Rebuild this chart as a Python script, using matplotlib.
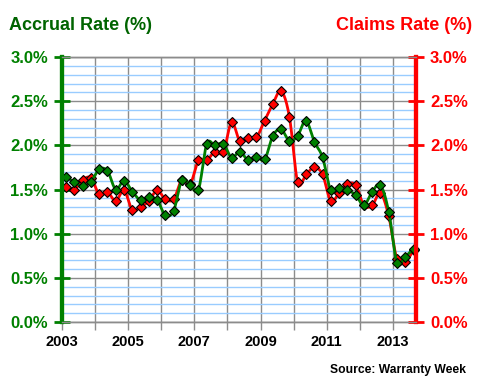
import numpy as np
import matplotlib
matplotlib.use("Agg")
import matplotlib.pyplot as plt
from matplotlib.ticker import MultipleLocator, FuncFormatter

# Quarterly data, Q1 2003 .. Q3 2013
years = list(range(2003, 2014))
accrual = [1.645, 1.58, 1.54, 1.59,
           1.73, 1.71, 1.50, 1.60,
           1.475, 1.38, 1.41, 1.38,
           1.21, 1.26, 1.61, 1.55,
           1.50, 2.015, 2.00, 2.02,
           1.86, 1.93, 1.83, 1.87,
           1.84, 2.11, 2.18, 2.05,
           2.11, 2.28, 2.04, 1.865,
           1.49, 1.52, 1.49, 1.44,
           1.32, 1.475, 1.55, 1.25,
           0.67, 0.74, 0.83]
claims = [1.53, 1.50, 1.61, 1.63,
          1.445, 1.47, 1.37, 1.49,
          1.27, 1.30, 1.37, 1.49,
          1.39, 1.39, 1.61, 1.56,
          1.83, 1.83, 1.93, 1.92,
          2.26, 2.05, 2.08, 2.09,
          2.28, 2.47, 2.615, 2.32,
          1.58, 1.67, 1.75, 1.67,
          1.37, 1.46, 1.56, 1.55,
          1.32, 1.32, 1.46, 1.20,
          0.71, 0.68, 0.81]
year_labels = ["2003", "2005", "2007", "2009", "2011", "2013"]

n = len(accrual)
xq = np.array([2003 + (i + 0.5) / 4.0 for i in range(n)])

def catmull(x, y, steps=12):
    x = np.asarray(x, float); y = np.asarray(y, float)
    px = np.concatenate([[2 * x[0] - x[1]], x, [2 * x[-1] - x[-2]]])
    py = np.concatenate([[2 * y[0] - y[1]], y, [2 * y[-1] - y[-2]]])
    ox, oy = [], []
    t = np.linspace(0, 1, steps, endpoint=False)
    for i in range(1, len(px) - 2):
        for arr, out in ((px, ox), (py, oy)):
            p0, p1, p2, p3 = arr[i - 1], arr[i], arr[i + 1], arr[i + 2]
            out.extend(0.5 * ((2 * p1) + (-p0 + p2) * t +
                              (2 * p0 - 5 * p1 + 4 * p2 - p3) * t ** 2 +
                              (-p0 + 3 * p1 - 3 * p2 + p3) * t ** 3))
    ox.append(x[-1]); oy.append(y[-1])
    return np.array(ox), np.array(oy)

plt.rcParams['font.family'] = ['Liberation Sans', 'DejaVu Sans']
GREEN = '#008000'
RED = '#ff0000'

fig = plt.figure(figsize=(4.8, 3.8), dpi=100)
ax = fig.add_axes([62 / 480, 58 / 380, 354 / 480, 265 / 380])
ax.set_xlim(2003, 2013.7)
ax.set_ylim(0, 3.0)

# grid
ax.yaxis.set_minor_locator(MultipleLocator(0.1))
ax.yaxis.set_major_locator(MultipleLocator(0.5))
ax.grid(which='minor', axis='y', color='#99ccff', lw=1, zorder=0)
ax.grid(which='major', axis='y', color='#8c8c8c', lw=1, zorder=0.5)
ax.set_xticks(years)
ax.set_xticklabels([str(y) if str(y) in year_labels else '' for y in years],
                   fontsize=10.5, fontweight='bold')
ax.grid(which='major', axis='x', color='#8c8c8c', lw=1, zorder=0.5)
ax.tick_params(axis='x', direction='out', length=6, width=1, color='#8c8c8c', pad=3)

# series
cx, cy = catmull(xq, claims)
ax.plot(cx, cy, color=RED, lw=2, zorder=3, clip_on=False)
ax.plot(xq, claims, ls='none', marker='D', ms=5, mfc=RED, mec='black', mew=0.8, zorder=4, clip_on=False)
gx, gy = catmull(xq, accrual)
ax.plot(gx, gy, color=GREEN, lw=2, zorder=5, clip_on=False)
ax.plot(xq, accrual, ls='none', marker='D', ms=5, mfc=GREEN, mec='black', mew=0.8, zorder=6, clip_on=False)

fmt = FuncFormatter(lambda v, p: f"{v:.1f}%")
ax.yaxis.set_major_formatter(fmt)
ax.tick_params(axis='y', which='major', direction='inout', length=12, width=2,
               color=GREEN, labelcolor=GREEN, labelsize=12, pad=4)
ax.tick_params(axis='y', which='minor', length=0)
for lab in ax.get_yticklabels():
    lab.set_fontweight('bold')

ax2 = ax.twinx()
ax2.set_ylim(0, 3.0)
ax2.yaxis.set_major_locator(MultipleLocator(0.5))
ax2.yaxis.set_major_formatter(fmt)
ax2.tick_params(axis='y', direction='inout', length=12, width=2,
                color=RED, labelcolor=RED, labelsize=12, pad=4)
for lab in ax2.get_yticklabels():
    lab.set_fontweight('bold')

for a in (ax, ax2):
    a.spines['top'].set_color('#8c8c8c'); a.spines['top'].set_linewidth(1)
    a.spines['bottom'].set_color('#8c8c8c'); a.spines['bottom'].set_linewidth(1)
    a.spines['left'].set_color(GREEN); a.spines['left'].set_linewidth(3)
    a.spines['right'].set_color(RED); a.spines['right'].set_linewidth(3)

fig.text(9 / 480, 1 - 26 / 380, "Accrual Rate (%)", color='#006400', fontsize=13,
         fontweight='bold', ha='left', va='center')
fig.text(472 / 480, 1 - 26 / 380, "Claims Rate (%)", color=RED, fontsize=13,
         fontweight='bold', ha='right', va='center')
fig.text(466 / 480, 1 - 370 / 380, "Source: Warranty Week", color='black', fontsize=8.7,
         fontweight='bold', ha='right', va='center')

fig.savefig("out.png", dpi=100)
